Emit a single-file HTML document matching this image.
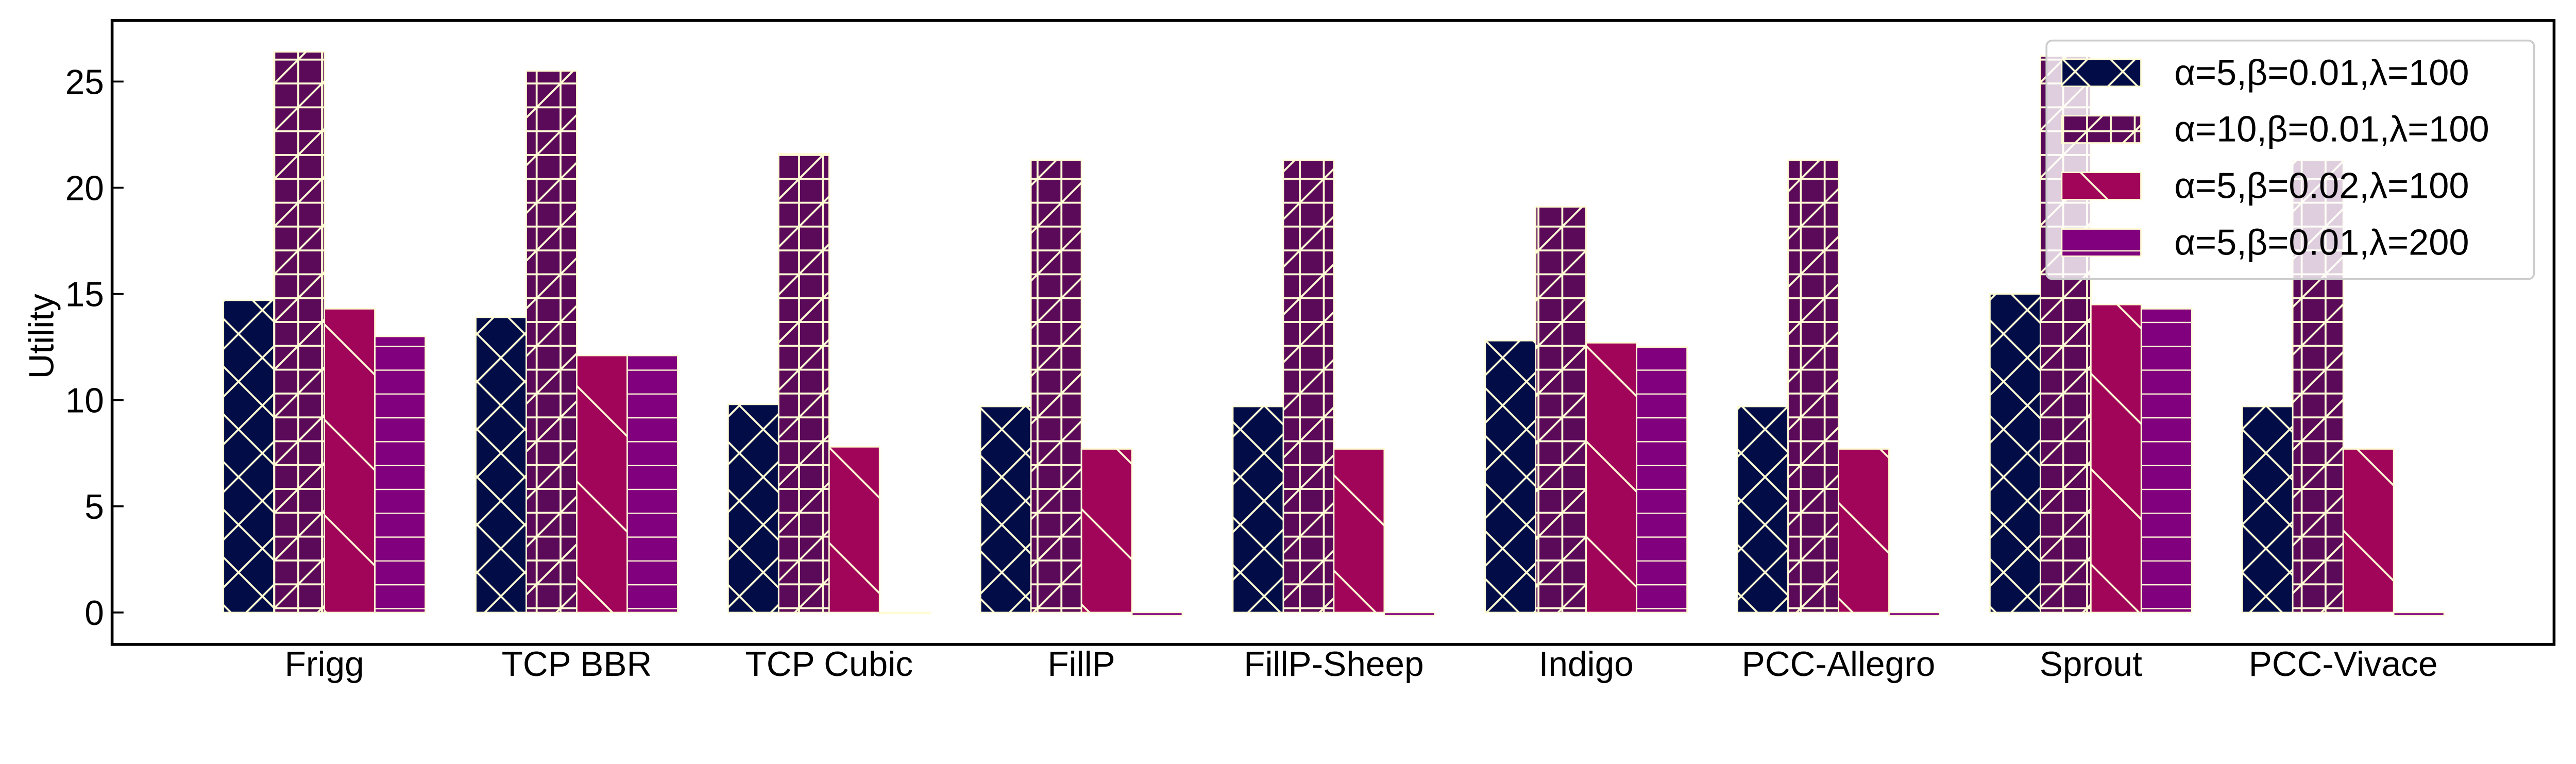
<!DOCTYPE html>
<html><head><meta charset="utf-8"><style>
html,body{margin:0;padding:0;background:#fff;overflow:hidden;}
svg{display:block;font-family:"Liberation Sans",sans-serif;width:100vw;height:calc(100vw * 1483 / 5400);}
</style></head><body>
<svg id="chart" viewBox="0 0 5400 1483" preserveAspectRatio="none" xmlns="http://www.w3.org/2000/svg">
<defs>
<pattern id="hx" patternUnits="userSpaceOnUse" width="100" height="100" x="0" y="0">
<rect width="100" height="100" fill="#020d48"/>
<path d="M-10,-10 L110,110 M-10,110 L110,-10 M40,-60 L160,60 M-60,40 L60,160 M40,160 L160,40 M-60,60 L60,-60" stroke="#fffbd5" stroke-width="4" fill="none"/>
</pattern>
<pattern id="hp" patternUnits="userSpaceOnUse" width="100" height="100" x="25" y="25">
<rect width="100" height="100" fill="#5b0a5a"/>
<path d="M0,0 H100 M0,50 H100 M0,100 H100 M0,0 V100 M50,0 V100 M100,0 V100 M-10,110 L110,-10" stroke="#fffbd5" stroke-width="4" fill="none"/>
</pattern>
<pattern id="hb" patternUnits="userSpaceOnUse" width="200" height="200" x="0" y="0">
<rect width="200" height="200" fill="#a0055a"/>
<path d="M-10,-10 L210,210 M-110,90 L110,310 M90,-110 L310,110" stroke="#fffbd5" stroke-width="4" fill="none"/>
</pattern>
<pattern id="hh" patternUnits="userSpaceOnUse" width="50" height="50" x="0" y="24.7">
<rect width="50" height="50" fill="#80007d"/>
<path d="M0,0 H50" stroke="#fffbd5" stroke-width="5" fill="none"/>
</pattern>
</defs>
<g id="bars"></g>
<g id="axes"></g>
<g id="legend"></g>
</svg>
<script>
const categories = ["Frigg","TCP BBR","TCP Cubic","FillP","FillP-Sheep","Indigo","PCC-Allegro","Sprout","PCC-Vivace"];
const seriesA = [14.7, 13.9, 9.8, 9.7, 9.7, 12.8, 9.7, 15.0, 9.7];
const seriesB = [26.4, 25.5, 21.6, 21.3, 21.3, 19.1, 21.3, 26.2, 21.3];
const seriesC = [14.3, 12.1, 7.8, 7.7, 7.7, 12.7, 7.7, 14.5, 7.7];
const seriesD = [13.0, 12.1, -0.05, -0.15, -0.15, 12.5, -0.15, 14.3, -0.15];
const seriesLabels = ["α=5,β=0.01,λ=100","α=10,β=0.01,λ=100","α=5,β=0.02,λ=100","α=5,β=0.01,λ=200"];
const yTicks = [0,5,10,15,20,25];

const NS="http://www.w3.org/2000/svg";
const fills=["url(#hx)","url(#hp)","url(#hb)","url(#hh)"];
const allSeries=[seriesA,seriesB,seriesC,seriesD];
const L=235,R=5354,T=43,B=1351;
const y0px=1284, pxPerUnit=44.52;
function yScale(v){return y0px - v*pxPerUnit;}
const groupStart=680, groupStep=529, barW=105.8;
function xCenter(i){return groupStart + i*groupStep;}
function mk(tag,attrs,parent){const e=document.createElementNS(NS,tag);for(const k in attrs)e.setAttribute(k,attrs[k]);parent.appendChild(e);return e;}
const gb=document.getElementById('bars');
allSeries.forEach((s,si)=>{
  s.forEach((v,i)=>{
    const x=xCenter(i)-2*barW+si*barW;
    const ya=yScale(Math.max(v,0)), yb=yScale(Math.min(v,0));
    const r=mk('rect',{x:x,y:ya,width:barW,height:Math.max(yb-ya,1.5),fill:fills[si],stroke:"#fffbd5","stroke-width":3},gb);
    
    
  });
});
const ga=document.getElementById('axes');
const frame=mk('rect',{x:L,y:T,width:R-L,height:B-T,fill:"none",stroke:"#000","stroke-width":6},ga);


yTicks.forEach(t=>{
  const y=yScale(t);
  const tk=mk('line',{x1:L,x2:L+24,y1:y,y2:y,stroke:"#000","stroke-width":4},ga);
  
  
  const tx=mk('text',{x:218,y:y+26,"text-anchor":"end","font-size":73,fill:"#000"},ga);
  tx.textContent=t;
  
  
});
categories.forEach((c,i)=>{
  const tx=mk('text',{x:xCenter(i),y:1417,"text-anchor":"middle","font-size":73,fill:"#000"},ga);
  tx.textContent=c;
  
  
});
const yl=mk('text',{x:0,y:0,"text-anchor":"middle","font-size":73,fill:"#000",transform:"translate(112,705) rotate(-90)"},ga);
yl.textContent="Utility";


const gl=document.getElementById('legend');


const lb=mk('rect',{x:4290,y:85,width:1022,height:500,rx:12,fill:"#fff","fill-opacity":0.8,stroke:"#cccccc","stroke-width":4},gl);


seriesLabels.forEach((lab,si)=>{
  const y=124+si*118.7;
  const h=mk('rect',{x:4322,y:y,width:166,height:57,fill:fills[si],stroke:"#fffbd5","stroke-width":3},gl);
  
  
  const t=mk('text',{x:4558,y:y+54,"font-size":76,fill:"#000"},gl);
  t.textContent=lab;
  
  
});
</script>
</body></html>
